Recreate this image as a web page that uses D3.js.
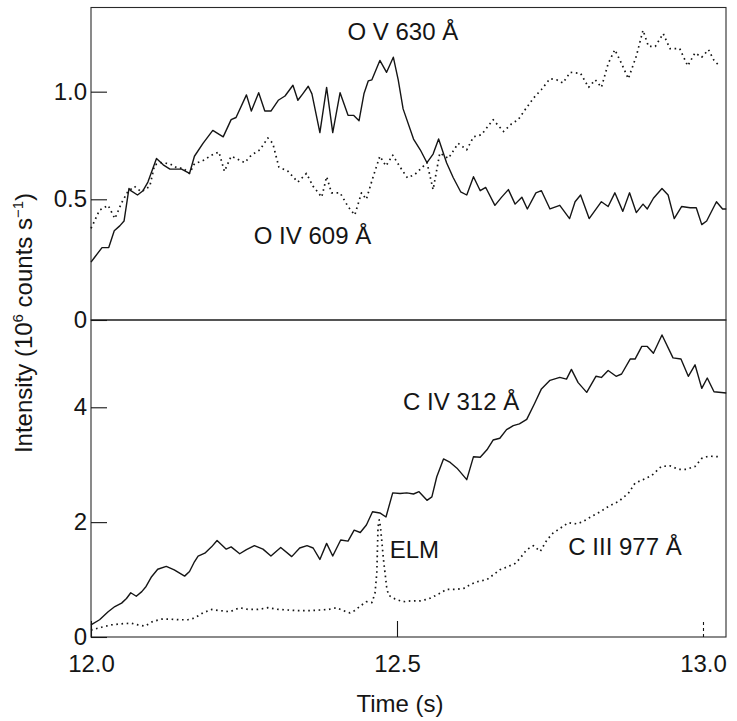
<!DOCTYPE html>
<html>
<head>
<meta charset="utf-8">
<script src="https://cdn.jsdelivr.net/npm/d3@7"></script>
<style>
  html, body { margin: 0; padding: 0; background: #fff; }
  svg { display: block; font-family: "Liberation Sans", Arial, Helvetica, sans-serif; }
</style>
</head>
<body>
<svg id="chart" width="737" height="721"></svg>
<script>
// time (s), intensity (10^6 counts/s)
var oV630 = [
  [12.000,0.24],[12.006,0.26],[12.018,0.30],[12.029,0.30],[12.038,0.37],[12.047,0.39],[12.054,0.41],
  [12.062,0.55],[12.065,0.54],[12.076,0.52],[12.085,0.54],[12.093,0.58],[12.107,0.69],[12.118,0.66],
  [12.129,0.64],[12.148,0.64],[12.161,0.62],[12.169,0.70],[12.183,0.76],[12.199,0.82],[12.216,0.79],
  [12.229,0.87],[12.237,0.88],[12.254,0.985],[12.262,0.91],[12.274,0.995],[12.284,0.91],[12.294,0.91],
  [12.306,0.96],[12.317,0.98],[12.330,1.03],[12.338,0.96],[12.346,0.99],[12.355,1.025],[12.361,0.99],
  [12.374,0.81],[12.385,1.02],[12.395,0.81],[12.407,0.995],[12.420,0.89],[12.429,0.89],[12.438,0.865],
  [12.446,0.99],[12.453,1.05],[12.459,1.055],[12.472,1.145],[12.483,1.09],[12.494,1.16],[12.502,1.055],
  [12.510,0.92],[12.527,0.78],[12.538,0.73],[12.549,0.67],[12.559,0.71],[12.568,0.78],[12.581,0.67],
  [12.592,0.60],[12.604,0.535],[12.614,0.52],[12.625,0.605],[12.636,0.54],[12.645,0.555],[12.660,0.475],
  [12.671,0.51],[12.682,0.545],[12.693,0.48],[12.704,0.51],[12.713,0.46],[12.727,0.53],[12.736,0.54],
  [12.750,0.46],[12.766,0.475],[12.782,0.42],[12.791,0.49],[12.800,0.52],[12.814,0.42],[12.834,0.49],
  [12.845,0.47],[12.856,0.53],[12.869,0.45],[12.880,0.53],[12.891,0.445],[12.902,0.48],[12.909,0.46],
  [12.919,0.505],[12.933,0.55],[12.943,0.52],[12.953,0.42],[12.965,0.47],[12.979,0.465],[12.989,0.465],
  [12.998,0.395],[13.006,0.41],[13.022,0.49],[13.032,0.46],[13.038,0.46]
];

var oIV609 = [
  [12.000,0.38],[12.003,0.395],[12.014,0.455],[12.028,0.475],[12.039,0.42],[12.050,0.485],[12.060,0.535],
  [12.071,0.56],[12.082,0.535],[12.096,0.56],[12.104,0.66],[12.115,0.67],[12.129,0.665],[12.141,0.645],
  [12.150,0.645],[12.161,0.62],[12.169,0.665],[12.183,0.68],[12.197,0.705],[12.209,0.72],[12.218,0.63],
  [12.229,0.70],[12.237,0.69],[12.251,0.67],[12.262,0.705],[12.276,0.73],[12.289,0.785],[12.297,0.76],
  [12.307,0.65],[12.322,0.63],[12.338,0.58],[12.352,0.62],[12.363,0.56],[12.377,0.51],[12.385,0.605],
  [12.393,0.53],[12.407,0.53],[12.420,0.47],[12.431,0.435],[12.442,0.53],[12.450,0.50],[12.461,0.605],
  [12.472,0.70],[12.482,0.655],[12.493,0.705],[12.505,0.65],[12.517,0.60],[12.529,0.615],[12.549,0.67],
  [12.559,0.545],[12.570,0.715],[12.584,0.69],[12.600,0.76],[12.614,0.73],[12.625,0.79],[12.638,0.80],
  [12.657,0.87],[12.674,0.815],[12.687,0.85],[12.698,0.87],[12.709,0.915],[12.723,0.97],[12.736,1.01],
  [12.750,1.06],[12.761,1.055],[12.771,1.04],[12.783,1.09],[12.800,1.085],[12.813,1.02],[12.824,1.055],
  [12.834,1.02],[12.845,1.13],[12.856,1.195],[12.867,1.13],[12.878,1.06],[12.891,1.165],[12.902,1.285],
  [12.911,1.21],[12.922,1.21],[12.935,1.27],[12.946,1.20],[12.962,1.20],[12.975,1.12],[12.987,1.18],
  [12.998,1.16],[13.009,1.195],[13.018,1.145],[13.025,1.125]
];

var cIV312 = [
  [12.000,0.21],[12.014,0.30],[12.028,0.44],[12.039,0.53],[12.050,0.59],[12.058,0.67],[12.065,0.77],
  [12.074,0.71],[12.083,0.79],[12.090,0.88],[12.099,1.05],[12.109,1.18],[12.123,1.23],[12.136,1.17],
  [12.153,1.06],[12.161,1.14],[12.169,1.31],[12.175,1.41],[12.186,1.46],[12.197,1.57],[12.206,1.68],
  [12.221,1.53],[12.229,1.57],[12.243,1.45],[12.254,1.52],[12.267,1.59],[12.281,1.53],[12.294,1.41],
  [12.310,1.56],[12.328,1.40],[12.341,1.55],[12.353,1.59],[12.363,1.55],[12.374,1.35],[12.385,1.63],
  [12.395,1.41],[12.408,1.69],[12.420,1.67],[12.430,1.86],[12.440,1.82],[12.450,1.95],[12.460,2.18],
  [12.472,2.16],[12.482,2.09],[12.493,2.51],[12.505,2.50],[12.516,2.51],[12.527,2.49],[12.536,2.53],
  [12.549,2.38],[12.557,2.44],[12.565,2.79],[12.576,3.10],[12.587,3.04],[12.598,2.94],[12.614,2.74],
  [12.625,3.14],[12.636,3.13],[12.647,3.26],[12.657,3.43],[12.668,3.46],[12.679,3.61],[12.690,3.68],
  [12.700,3.71],[12.712,3.79],[12.725,4.07],[12.736,4.32],[12.750,4.47],[12.766,4.52],[12.777,4.49],
  [12.785,4.66],[12.796,4.43],[12.810,4.26],[12.825,4.54],[12.834,4.52],[12.845,4.64],[12.858,4.54],
  [12.867,4.58],[12.881,4.84],[12.889,4.84],[12.900,5.06],[12.909,5.06],[12.919,4.94],[12.933,5.26],
  [12.951,4.86],[12.964,4.84],[12.976,4.54],[12.987,4.74],[12.998,4.33],[13.007,4.51],[13.018,4.27],
  [13.038,4.25]
];

var cIII977 = [
  [12.000,0.12],[12.017,0.17],[12.033,0.21],[12.050,0.23],[12.066,0.24],[12.077,0.21],[12.088,0.19],
  [12.101,0.27],[12.115,0.31],[12.131,0.31],[12.145,0.30],[12.158,0.30],[12.169,0.33],[12.183,0.42],
  [12.197,0.48],[12.210,0.46],[12.227,0.44],[12.243,0.51],[12.257,0.48],[12.273,0.48],[12.289,0.51],
  [12.306,0.48],[12.322,0.47],[12.338,0.46],[12.358,0.46],[12.374,0.47],[12.388,0.48],[12.401,0.51],
  [12.412,0.46],[12.423,0.42],[12.431,0.46],[12.440,0.54],[12.450,0.615],[12.459,0.60],[12.464,0.76],
  [12.467,1.11],[12.469,1.92],[12.471,2.04],[12.473,1.92],[12.478,1.34],[12.483,0.88],[12.486,0.73],
  [12.497,0.66],[12.510,0.615],[12.524,0.63],[12.538,0.63],[12.551,0.66],[12.559,0.70],[12.570,0.76],
  [12.581,0.83],[12.598,0.83],[12.611,0.85],[12.619,0.91],[12.630,0.96],[12.647,1.00],[12.657,1.08],
  [12.668,1.17],[12.682,1.23],[12.693,1.28],[12.701,1.37],[12.712,1.52],[12.723,1.59],[12.734,1.49],
  [12.745,1.69],[12.755,1.81],[12.769,1.91],[12.780,1.99],[12.794,1.97],[12.804,2.01],[12.818,2.10],
  [12.832,2.18],[12.845,2.27],[12.862,2.36],[12.878,2.50],[12.889,2.68],[12.902,2.74],[12.916,2.81],
  [12.932,2.97],[12.946,2.98],[12.960,2.92],[12.973,2.92],[12.987,2.97],[12.998,3.11],[13.009,3.15],
  [13.025,3.14]
];

var timeTicks = [12.0, 12.5, 13.0];
var topTicks = [0, 0.5, 1.0];
var bottomTicks = [0, 2, 4];

var labels = [
  { text: "O V 630 Å", panel: "top", t: 12.419, v: 1.24 },
  { text: "O IV 609 Å", panel: "top", t: 12.266, v: 0.315 },
  { text: "C IV 312 Å", panel: "bottom", t: 12.510, v: 3.96 },
  { text: "ELM", panel: "bottom", t: 12.488, v: 1.38 },
  { text: "C III 977 Å", panel: "bottom", t: 12.780, v: 1.43 }
];

var ink = "#151515";
var svg = d3.select("#chart");

var x = d3.scaleLinear().domain([12, 13.0376]).range([91, 726]);
// the top panel's zero sits a little lower than a straight 0.5 step would put it
var yTop = d3.scaleLinear().domain([0, 0.5, 1.391]).range([320, 199.3, 7.5]);
var yBot = d3.scaleLinear().domain([0, 5.52]).range([637, 320]);

// panel frames
[yTop, yBot].forEach(function (y) {
  var r = y.range();
  svg.append("rect")
    .attr("x", x.range()[0]).attr("y", r[r.length - 1])
    .attr("width", x.range()[1] - x.range()[0])
    .attr("height", r[0] - r[r.length - 1])
    .attr("fill", "none")
    .attr("stroke", "#2a2a2a")
    .attr("stroke-width", 1.1);
});

function styleAxis(g) {
  g.select(".domain").remove();
  g.selectAll(".tick line").attr("stroke", ink).attr("stroke-width", 1.1);
  g.selectAll(".tick text")
    .attr("fill", ink)
    .style("font-size", "24px");
}

svg.append("g")
  .attr("transform", "translate(" + x.range()[0] + ",0)")
  .call(d3.axisLeft(yTop).tickValues(topTicks).tickSize(-16).tickPadding(4)
    .tickFormat(function (d) { return d === 0 ? "0" : d.toFixed(1) }))
  .call(styleAxis);

svg.append("g")
  .attr("transform", "translate(" + x.range()[0] + ",0)")
  .call(d3.axisLeft(yBot).tickValues(bottomTicks).tickSize(-16).tickPadding(4)
    .tickFormat(d3.format("d")))
  .call(styleAxis);

var xAxis = svg.append("g")
  .attr("transform", "translate(0," + yBot.range()[0] + ")")
  .call(d3.axisBottom(x).tickValues(timeTicks).tickSize(-16).tickPadding(18)
    .tickFormat(d3.format(".1f")))
  .call(styleAxis);
xAxis.selectAll(".tick line")
  .attr("stroke-dasharray", function (d) { return d === 13 ? "3,3" : null });

// curves
var series = [
  { data: oV630, y: yTop, dotted: false },
  { data: oIV609, y: yTop, dotted: true },
  { data: cIV312, y: yBot, dotted: false },
  { data: cIII977, y: yBot, dotted: true }
];

series.forEach(function (s) {
  var line = d3.line()
    .x(function (d) { return x(d[0]) })
    .y(function (d) { return s.y(d[1]) });
  svg.append("path")
    .datum(s.data)
    .attr("d", line)
    .attr("fill", "none")
    .attr("stroke", ink)
    .attr("stroke-width", s.dotted ? 1.7 : 1.4)
    .attr("stroke-linejoin", "round")
    .attr("stroke-dasharray", s.dotted ? "1.6,3.6" : null);
});

// line labels
svg.selectAll("text.lbl")
  .data(labels)
  .enter().append("text")
  .attr("class", "lbl")
  .attr("x", function (d) { return x(d.t) })
  .attr("y", function (d) { return (d.panel === "top" ? yTop : yBot)(d.v) })
  .attr("fill", ink)
  .style("font-size", "24px")
  .text(function (d) { return d.text });

// axis titles
svg.append("text")
  .attr("x", 400).attr("y", 712)
  .attr("text-anchor", "middle")
  .attr("fill", ink)
  .style("font-size", "24px")
  .text("Time (s)");

var ylab = svg.append("text")
  .attr("transform", "translate(32,323) rotate(-90)")
  .attr("text-anchor", "middle")
  .attr("fill", ink)
  .style("font-size", "24px");
ylab.append("tspan").text("Intensity (10");
ylab.append("tspan").attr("dy", -9).style("font-size", "15px").text("6");
ylab.append("tspan").attr("dy", 9).text(" counts s");
ylab.append("tspan").attr("dy", -9).style("font-size", "15px").text("−1");
ylab.append("tspan").attr("dy", 9).text(")");
</script>
</body>
</html>
